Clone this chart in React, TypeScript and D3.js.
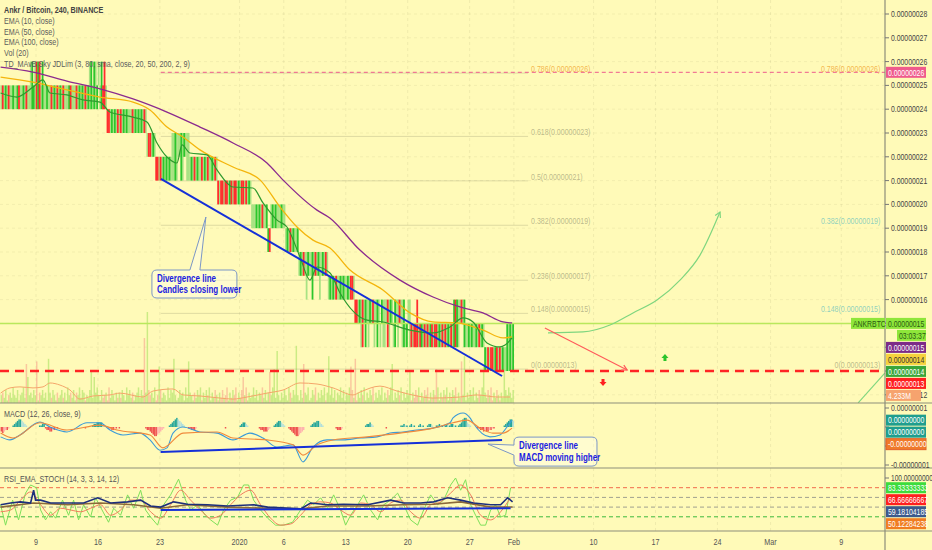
import React from 'react';
import * as d3 from 'd3';

const W = 932;
const H = 550;
const AXIS_X = 885;
const MAIN_BOTTOM = 403;
const MACD_BOTTOM = 468;
const RSI_BOTTOM = 531;
const FONT = "'Liberation Sans', Arial, sans-serif";
const BG = '#fffab8';

const T0 = Date.UTC(2019, 11, 5);
const DAY = 864e5;
const at = (d: number) => new Date(T0 + d * DAY);

// price in satoshi; each block = base level + one char per 4h candle
const blockLevels = [24, 23, 22, 21, 21, 21, 20, 19, 18, 16, 16, 14, 14, 14, 14, 13, 13];
const blockBars = [
  'gRgGgRggGg' + 'gGRggGgRgg' + 'uUGuDUDgUg' + 'gGggRgGgRg' + 'GgRgggGRgg' + 'gRgGgGgRgG' + 'uUgUuGhgURDg',
  'RRgGgGgRgRgGgGgggRgGgGgGgRg',
  'gRRgGg',
  'RRgRgGgGgGg',
  'uuUuhhUuHhuugGgRgGg',
  'gRgGgRggGgRg',
  'RgRRgRRgGRgRRgGgRRgRgGg',
  'gggGgGgRggGbBgGgGgggGgg',
  'gGgRgGggG',
  'hHhKhuHhhUhKhHuhHhKh',
  'gGgGgRggGgGggGgRRg',
  'KKhHuDhUhuHhKuhUhgHuuhDuHhgUhuKhuUgGhu',
  'RgRRDgRGgRgRgGRgRRgGgRgRgGgRg',
  'UDUuhKhUg',
  'gGgGggGgRgGg',
  'GgRgRRgGRgRgGg',
  'gUuUuU',
];

// volume per candle (base 36 digits)
const volumeCodes = [
  '3425134263', '2513462fa3', '4253g14352', '41h4253142', '3524163425', '1436254132', '5c2a463152',
  '3416253142', '4253163524', '1346253p4z', '5342613e52', '4316254h31', '2534162g43', '1425361425',
  '3614253142', '5236142536', '1425a36142', '3625143625', '14c36d2k31', '4253164253', 'm3152f4361',
  '2536142536', '14i3625143', '6251436e52', 'h142536142', '5361425361', '42536f1425', '3614253c14',
  '2536142536', '14253d6142', '5361425361', '42g3i14253', '6142536e42', '5361425314', '2d536425',
].join('');

// MACD histogram per candle: digits up, letters a-f down
const histCodes = [
  'cdcbba0012', '3455432100', '0000001122', 'abbccbbaa0', '0000000000', '0000000a00', '0012233332',
  '100aabbaa0', 'a000000000', '00000000ab', 'bcdeffedcb', 'a000123456', '5432100aab', 'bba0000000',
  '0000000000', '00a0000000', '0012332100', '00000abbcc', 'cba0012344', '32100abcde', 'ffedcb0000',
  '1233443210', '0000000abb', 'ba00000000', '0000000122', '3210000000', '0a00000000', '0112110121',
  '1001211001', '2210011211', '0121122110', '1235663210', '000aabbcbc', 'cbbaa00000', '01234554',
].join('');

type P = [number, number];

const ema10: P[] = [
  [0, 24.68], [1.85, 24.51], [3.66, 24.93], [4.79, 25.23], [5.58, 24.68], [7.5, 24.6], [9.31, 24.39],
  [11.23, 24.3], [12.36, 23.88], [14.96, 23.67], [16.54, 23.46], [17.67, 22.58], [18.8, 21.99],
  [19.93, 21.74], [20.5, 22.5], [21.4, 22.16], [23.32, 22.08], [24.45, 21.45], [26.26, 20.73],
  [28.52, 20.69], [29.65, 20.06], [31.23, 19.34], [32.36, 19.05], [33.83, 17.79], [34.96, 16.82],
  [35.75, 17.37], [37.22, 17.12], [38.35, 16.28], [41.4, 15.14], [43.21, 15.06], [46.26, 14.72],
  [48.86, 14.6], [50.78, 14.85], [52.25, 15.23], [53.38, 15.06], [54.96, 14.18], [56.43, 14.01],
  [57.0, 14.09], [57.79, 14.39],
];
const ema50: P[] = [
  [0, 25.35], [3.66, 25.14], [7.5, 24.81], [11.23, 24.51], [14.96, 24.3], [16.88, 23.97], [18.8, 23.25],
  [20.6, 22.83], [22.53, 22.29], [26.26, 21.57], [29.31, 21.03], [31.57, 19.89], [33.49, 19.05],
  [35.3, 18.5], [37.22, 18.17], [39.48, 17.24], [43.2, 16.4], [46.26, 15.44], [48.86, 15.06],
  [51.57, 15.02], [54.51, 14.72], [56.77, 14.39], [57.79, 14.43],
];
const ema100: P[] = [
  [0, 25.77], [3.66, 25.56], [7.5, 25.18], [11.23, 24.85], [14.96, 24.43], [18.8, 23.88], [22.53, 23.25],
  [26.26, 22.58], [30.1, 21.74], [31.9, 21.03], [35.75, 19.76], [37.2, 19.43], [40.6, 18.08],
  [45.13, 16.82], [48.86, 16.11], [51.9, 15.69], [54.5, 15.44], [56.77, 15.06], [57.8, 15.02],
];
const volMA: P[] = [
  [0, 3.8], [1.06, 5.8], [2.19, 6.2], [3.66, 5.8], [4.79, 6.2], [5.58, 7.7], [6.71, 6.9], [7.84, 5.0],
  [8.97, 1.5], [10.44, 2.7], [12.36, 3.1], [13.49, 3.8], [16.09, 2.3], [17.22, 4.6], [19.48, 5.4],
  [20.61, 3.1], [22.53, 2.7], [24.79, 1.9], [26.26, 1.5], [27.84, 2.3], [30.1, 3.8], [31.91, 5.0],
  [33.83, 7.7], [35.75, 7.3], [37.56, 5.8], [39.82, 3.1], [40.61, 4.2], [42.87, 6.5], [44.79, 4.6],
  [47.05, 2.7], [48.86, 1.9], [51.91, 2.3], [53.83, 3.1], [56.09, 2.3], [57.56, 2.3],
];
const macdLine: P[] = [
  [0, -0.26], [1.06, -0.34], [2.19, -0.21], [4.45, 0.13], [5.58, 0], [7.5, -0.13], [9.76, 0.11],
  [11.23, 0.11], [12.36, -0.08], [13.83, -0.21], [15.75, -0.16], [16.88, -0.34], [18.01, -0.61],
  [18.8, -0.55], [19.48, -0.16], [20.61, 0], [22.53, -0.13], [24.45, -0.16], [26.26, -0.34],
  [28.18, -0.16], [29.65, -0.29], [31.23, -0.53], [33.04, -0.47], [34.17, -0.92], [35.3, -0.53],
  [36.88, -0.34], [38.69, -0.34], [40.61, -0.29], [42.53, -0.26], [44.0, -0.16], [45.47, -0.13],
  [47.05, -0.08], [48.86, -0.03], [50.78, 0.11], [51.12, 0.24], [52.25, 0.37], [53.04, 0.24],
  [53.38, 0.11], [55.3, -0.26], [56.43, -0.21], [57.22, 0], [57.79, 0.18],
];
const signalLine: P[] = [
  [0, -0.16], [1.4, -0.29], [4.45, 0.11], [7.5, -0.08], [11.23, 0.05], [13.15, -0.08], [16.88, -0.21],
  [18.35, -0.55], [20.61, -0.16], [24.45, -0.13], [26.26, -0.29], [30.1, -0.34], [33.04, -0.47],
  [34.17, -0.74], [35.75, -0.47], [37.56, -0.34], [41.4, -0.26], [45.13, -0.16], [48.86, -0.03],
  [51.12, 0.11], [52.7, 0.18], [54.17, -0.03], [55.64, -0.16], [56.77, -0.16], [57.79, -0.03],
];
const stochK: P[] = [
  [0, 54], [0.56, 19], [1.36, 62], [2.03, 28], [2.82, 74], [3.39, 88], [4.07, 83], [4.52, 45], [5.08, 28],
  [5.65, 42], [6.21, 31], [7.0, 62], [7.68, 36], [8.25, 62], [8.81, 28], [9.38, 54], [10.17, 33],
  [10.73, 66], [11.64, 40], [12.2, 24], [12.77, 48], [13.56, 36], [14.35, 71], [15.03, 48], [15.82, 79],
  [16.38, 45], [16.95, 33], [17.74, 19], [18.42, 54], [19.21, 71], [20.11, 98], [20.9, 62], [21.47, 45],
  [22.26, 54], [23.16, 36], [23.73, 28], [24.52, 19], [25.2, 45], [25.99, 62], [26.78, 67], [27.46, 88],
  [28.02, 88], [28.59, 62], [29.38, 45], [30.17, 31], [31.07, 19], [31.98, 19], [32.99, 24], [33.9, 45],
  [34.69, 62], [35.37, 54], [36.16, 66], [36.95, 48], [37.63, 71], [38.42, 45], [38.98, 19], [39.55, 36],
  [40.34, 54], [41.02, 71], [41.81, 45], [42.6, 28], [43.28, 54], [44.07, 62], [44.86, 74], [45.54, 54],
  [46.33, 28], [47.12, 19], [47.8, 45], [48.59, 71], [49.38, 54], [50.06, 62], [50.85, 88], [51.41, 100],
  [51.98, 79], [52.54, 97], [53.11, 54], [53.67, 36], [54.24, 19], [54.8, 19], [55.37, 45], [55.93, 54],
  [56.5, 33], [57.06, 36], [57.63, 83.33333333],
];
const stochD: P[] = [
  [0, 42], [1.13, 45], [2.26, 62], [3.39, 76], [4.52, 54], [5.65, 36], [6.78, 48], [7.91, 45], [9.04, 42],
  [10.17, 48], [11.3, 54], [12.43, 36], [13.56, 45], [14.69, 62], [15.82, 62], [16.95, 42], [18.08, 31],
  [19.21, 54], [20.34, 79], [21.47, 62], [22.6, 45], [23.73, 31], [24.86, 36], [25.99, 54], [27.12, 71],
  [28.25, 79], [29.38, 54], [30.51, 31], [31.64, 19], [32.77, 21], [33.9, 36], [35.03, 54], [36.16, 59],
  [37.29, 57], [38.42, 45], [39.55, 36], [40.68, 57], [41.81, 54], [42.94, 42], [44.07, 57], [45.2, 62],
  [46.33, 42], [47.46, 31], [48.59, 54], [49.72, 59], [50.85, 74], [51.98, 88], [53.11, 71], [54.24, 36],
  [55.37, 28], [56.5, 42], [57.63, 66.66666667],
];
const rsiLine: P[] = [
  [0, 54], [1.13, 57], [2.26, 59], [3.39, 57], [3.73, 79], [3.95, 62], [4.52, 62], [5.65, 57], [7.57, 57],
  [9.38, 57], [10.96, 66], [12.43, 57], [14.35, 59], [15.82, 62], [16.95, 52], [18.08, 50], [19.55, 59],
  [21.13, 55], [23.39, 54], [25.65, 52], [28.59, 54], [30.17, 50], [32.77, 48], [33.9, 47], [35.03, 57],
  [36.95, 54], [38.76, 55], [41.47, 54], [44.07, 62], [45.54, 57], [47.46, 57], [48.93, 59], [50.51, 66],
  [51.98, 62], [53.45, 57], [55.37, 54], [56.5, 54], [57.29, 66], [57.85, 59.18104185],
];
const rsiSmooth: P[] = [
  [0, 50], [3.73, 57], [7.57, 54], [11.3, 57], [15.03, 54], [18.08, 48], [21.13, 54], [25.65, 50],
  [30.17, 48], [33.9, 47], [36.95, 52], [41.47, 52], [45.54, 54], [48.93, 55], [51.98, 59], [55.37, 50],
  [57.85, 50.12284238],
];
const rsiLevels = [83.33, 66.67, 50, 33.33];

const fibLevels = [0, 0.148, 0.236, 0.382, 0.5, 0.618, 0.786];
const fibRightLevels = [0, 0.148, 0.382, 0.786];
const fibLow = 13.08;
const fibHigh = 28.9;

const divergencePrice: P[] = [[18.12, 21.07], [56.66, 12.79]];
const divergenceMacd: P[] = [[18.08, -0.66], [56.66, -0.34]];
const divergenceRsi: P[] = [[18.08, 45], [57.63, 48]];
const projectionUp: P[] = [
  [61.85, 14.6], [65.81, 14.64], [68.86, 14.93], [71.46, 15.44], [74.17, 15.98], [76.77, 16.82],
  [79.03, 17.87], [81.29, 19.68],
];
const projectionDown: P[] = [[61.5, 14.81], [70.8, 13.04]];
const sideLine: P[] = [[96.9, 11.66], [99.93, 12.92]];

const timeTicks: [number, string][] = [
  [Date.UTC(2019, 11, 9), '9'], [Date.UTC(2019, 11, 16), '16'], [Date.UTC(2019, 11, 23), '23'],
  [Date.UTC(2020, 0, 1), '2020'], [Date.UTC(2020, 0, 6), '6'], [Date.UTC(2020, 0, 13), '13'],
  [Date.UTC(2020, 0, 20), '20'], [Date.UTC(2020, 0, 27), '27'], [Date.UTC(2020, 1, 1), 'Feb'],
  [Date.UTC(2020, 1, 10), '10'], [Date.UTC(2020, 1, 17), '17'], [Date.UTC(2020, 1, 24), '24'],
  [Date.UTC(2020, 2, 1), 'Mar'], [Date.UTC(2020, 2, 9), '9'],
];

const legend = [
  'Ankr / Bitcoin, 240, BINANCE',
  'EMA (10, close)',
  'EMA (50, close)',
  'EMA (100, close)',
  'Vol (20)',
  'TD_MAvB Sky JDLim (3, 80, sma, close, 20, 50, 200, 2, 9)',
];

const SPAN: Record<string, [number, number, string]> = {
  G: [0, 1, 'G'], g: [0, 1, 'g'], R: [0, 1, 'R'], r: [0, 1, 'r'],
  U: [0, 2, 'G'], u: [0, 2, 'g'], D: [0, 2, 'R'], d: [0, 2, 'r'],
  H: [1, 2, 'G'], h: [1, 2, 'g'], K: [1, 2, 'R'], k: [1, 2, 'r'],
  b: [-1, 0, 'G'], q: [-1, 0, 'g'], B: [-1, 0, 'R'],
};
const KIND_COLOR: Record<string, string> = { G: '#2cc62c', g: '#a8e283', R: '#ff2d2d', r: '#f6a89c' };

// satoshi -> BTC string
const fmt = (sats: number) => {
  const s = Math.sign(sats) * Math.round(Math.abs(sats));
  return (sats < 0 ? '-' : '') + (Math.abs(s) / 1e8).toFixed(8);
};

// condensed text (no narrow font installed)
function T(props: { x: number; y: number; size?: number; fill?: string; anchor?: string; weight?: number; children: React.ReactNode }) {
  const { x, y, size = 8.6, fill = '#444', anchor = 'start', weight = 400, children } = props;
  return (
    <text transform={`translate(${x},${y}) scale(0.8,1)`} fontSize={size} fill={fill} textAnchor={anchor} fontWeight={weight}>
      {children}
    </text>
  );
}

type Box = { y: number; text: string; bg: string; fg: string; x0?: number; x1?: number; stroke?: string };
const stack = (items: Box[], h: number) => {
  const out: Box[] = [];
  items.forEach((b, i) => {
    const yy = i === 0 ? b.y : Math.max(b.y, out[i - 1].y + h);
    out.push({ ...b, y: yy });
  });
  return out;
};

function calloutPath(l: number, t: number, w: number, h: number, tip: P, side: 'top' | 'left', a: number, b: number) {
  const r = 5;
  const rr = l + w;
  const bb = t + h;
  if (side === 'top') {
    return `M${l + r},${t} L${a},${t} L${tip[0]},${tip[1]} L${b},${t} L${rr - r},${t} Q${rr},${t} ${rr},${t + r} L${rr},${bb - r} Q${rr},${bb} ${rr - r},${bb} L${l + r},${bb} Q${l},${bb} ${l},${bb - r} L${l},${t + r} Q${l},${t} ${l + r},${t} Z`;
  }
  return `M${l + r},${t} L${rr - r},${t} Q${rr},${t} ${rr},${t + r} L${rr},${bb - r} Q${rr},${bb} ${rr - r},${bb} L${l + r},${bb} Q${l},${bb} ${l},${bb - r} L${l},${b} L${tip[0]},${tip[1]} L${l},${a} L${l},${t + r} Q${l},${t} ${l + r},${t} Z`;
}

export default function App() {
  const x = d3.scaleUtc().domain([at(0), at(100)]).range([0.6, 885.6]);
  const y = d3.scaleLinear().domain([12, 28]).range([394.8, 14]);
  const ym = d3.scaleLinear().domain([-1, 1]).range([465, 389]);
  const yr = d3.scaleLinear().domain([0, 100]).range([536.2, 478]);
  const yv = d3.scaleLinear().domain([0, 35]).range([MAIN_BOTTOM, MAIN_BOTTOM - 91]);
  const xd = (d: number) => x(at(d));

  const line = (ys: d3.ScaleLinear<number, number>, curve: d3.CurveFactory = d3.curveMonotoneX) =>
    d3.line<P>().x((p) => xd(p[0])).y((p) => ys(p[1])).curve(curve);

  // candles
  const candles: { i: number; lo: number; hi: number; kind: string }[] = [];
  let idx = 0;
  blockBars.forEach((s, b) => {
    for (const ch of s) {
      const [a, c, kind] = SPAN[ch];
      candles.push({ i: idx, lo: blockLevels[b] + a, hi: blockLevels[b] + c, kind });
      idx++;
    }
  });
  const step = xd(1 / 6) - xd(0);
  const cx = (i: number) => xd(i / 6);
  const isLight = (k: string) => k === k.toLowerCase();
  const lightFirst = [...candles].sort((a, b) => (isLight(a.kind) ? 0 : 1) - (isLight(b.kind) ? 0 : 1));

  const vols = volumeCodes.split('').map((c) => parseInt(c, 36));
  const hist = histCodes.split('').map((c) => (c >= 'a' ? -(c.charCodeAt(0) - 96) : +c) * 0.04);

  const priceTicks = d3.range(12, 29, 1);
  const lastClose = 15;
  const last = (arr: P[]) => arr[arr.length - 1][1];

  const priceBoxes = stack(
    [
      { y: y(lastClose), text: fmt(lastClose), bg: '#8ee63a', fg: '#2b5a12' },
      { y: y(lastClose), text: '03:03:37', bg: '#8ee63a', fg: '#2b5a12', x0: 897 },
      { y: y(last(ema100)), text: fmt(last(ema100)), bg: '#7c2b88', fg: '#fff' },
      { y: y(last(ema50)), text: fmt(last(ema50)), bg: '#f6d23c', fg: '#333' },
      { y: y(last(ema10)), text: fmt(last(ema10)), bg: '#3aa63a', fg: '#fff' },
      { y: y(13), text: fmt(13), bg: '#ff1f1f', fg: '#fff' },
      { y: yv(vols[vols.length - 1]), text: '4.233M', bg: '#f6a36e', fg: '#fff', x1: 921 },
    ],
    12,
  );
  const macdBoxes = stack(
    [
      { y: ym(last(macdLine)), text: fmt(last(macdLine)), bg: '#1f9e8e', fg: '#fff' },
      { y: ym(hist[hist.length - 1]), text: fmt(hist[hist.length - 1]), bg: '#1f9e8e', fg: '#fff' },
      { y: ym(last(signalLine)), text: fmt(last(signalLine)), bg: '#f07a2a', fg: '#fff', stroke: '#e0602a' },
    ],
    12,
  );
  const rsiBoxes = stack(
    [
      { y: yr(last(stochK)), text: last(stochK).toFixed(8), bg: '#3ddc3d', fg: '#fff' },
      { y: yr(last(stochD)), text: last(stochD).toFixed(8), bg: '#ff1f1f', fg: '#fff' },
      { y: yr(last(rsiLine)), text: last(rsiLine).toFixed(8), bg: '#3c5a8c', fg: '#fff' },
      { y: yr(last(rsiSmooth)), text: last(rsiSmooth).toFixed(8), bg: '#f07d22', fg: '#fff' },
    ],
    12,
  );
  const pinkY = y(25.55);
  const allBoxY = [...priceBoxes.slice(0, 6), ...macdBoxes, ...rsiBoxes].map((b) => b.y).concat([pinkY]);
  const hidden = (yy: number) => allBoxY.some((by) => Math.abs(by - yy) < 9);

  const renderBoxes = (boxes: Box[]) =>
    boxes.map((b, i) => (
      <g key={i}>
        <rect x={b.x0 ?? 886} y={b.y - 5.5} width={(b.x1 ?? 926) - (b.x0 ?? 886)} height={11} fill={b.bg} stroke={b.stroke ?? 'none'} />
        <T x={(b.x0 ?? 886) + 2} y={b.y + 3.2} fill={b.fg}>{b.text}</T>
      </g>
    ));

  const fibY = (lv: number) => y(fibLow + lv * (fibHigh - fibLow));
  const fibText = (lv: number) => `${lv}(${fmt(fibLow + lv * (fibHigh - fibLow))})`;
  const fibStart = xd(18.1);
  const fibEnd = xd(59.6);
  const fibRight = xd(99.4);

  const tip1: P = [xd(23.2), y(19.47)];
  const tip2: P = [xd(55.07), ym(-0.45)];
  const c1 = { l: tip1[0] - 54, t: tip1[1] + 53, w: 85, h: 28 };
  const c2 = { l: tip2[0] + 26, t: tip2[1] - 7, w: 83, h: 29 };

  const arrowHead = (p0: P, p1: P, color: string) => {
    const ang = Math.atan2(p1[1] - p0[1], p1[0] - p0[0]);
    const L = 6;
    const a1 = ang + Math.PI - 0.5;
    const a2 = ang + Math.PI + 0.5;
    return (
      <path
        d={`M${p1[0] + L * Math.cos(a1)},${p1[1] + L * Math.sin(a1)} L${p1[0]},${p1[1]} L${p1[0] + L * Math.cos(a2)},${p1[1] + L * Math.sin(a2)}`}
        fill="none" stroke={color} strokeWidth={1.2}
      />
    );
  };
  const up = projectionUp.map((p) => [xd(p[0]), y(p[1])] as P);
  const dn = projectionDown.map((p) => [xd(p[0]), y(p[1])] as P);
  const upMark: P = [xd(75.07), y(13.55)];
  const dnMark: P = [xd(68.07), y(12.54)];
  const calloutBlue = '#1c1ce0';

  return (
    <div style={{ position: 'fixed', left: 0, top: 0 }}>
      <svg width={W} height={H} style={{ display: 'block', fontFamily: FONT }}>
        <defs>
          <clipPath id="cm"><rect x={0} y={0} width={AXIS_X} height={MAIN_BOTTOM} /></clipPath>
          <clipPath id="cd"><rect x={0} y={MAIN_BOTTOM} width={AXIS_X} height={MACD_BOTTOM - MAIN_BOTTOM} /></clipPath>
          <clipPath id="cr"><rect x={0} y={MACD_BOTTOM} width={AXIS_X} height={RSI_BOTTOM - MACD_BOTTOM} /></clipPath>
        </defs>
        <rect width={W} height={H} fill={BG} />

        {/* grid */}
        {timeTicks.map(([t], i) => (
          <line key={i} x1={x(new Date(t))} x2={x(new Date(t))} y1={0} y2={RSI_BOTTOM} stroke="rgba(140,140,90,0.13)" strokeDasharray="3,3" />
        ))}
        {priceTicks.map((v) => (
          <line key={v} x1={0} x2={AXIS_X} y1={y(v)} y2={y(v)} stroke="rgba(140,140,90,0.1)" strokeDasharray="3,3" />
        ))}

        <g clipPath="url(#cm)">
          {/* volume */}
          {vols.map((v, i) => (
            <rect key={i} x={cx(i)} y={yv(v)} width={step} height={MAIN_BOTTOM - yv(v)}
              fill={candles[i].kind === 'R' || candles[i].kind === 'r' ? 'rgba(246,165,140,0.6)' : 'rgba(175,228,105,0.65)'} />
          ))}
          <path d={line(yv)(volMA) ?? ''} fill="none" stroke="#f5a66a" strokeWidth={1} />

          {/* fib */}
          {fibLevels.map((lv) => (
            <g key={lv}>
              <line x1={fibStart} x2={fibEnd} y1={fibY(lv)} y2={fibY(lv)} stroke="rgba(150,150,110,0.3)" />
              <T x={fibEnd + 3} y={fibY(lv) - 1} size={8.8} fill={lv === 0.786 ? 'rgba(240,160,40,0.75)' : 'rgba(130,130,100,0.55)'}>{fibText(lv)}</T>
            </g>
          ))}
          {fibRightLevels.map((lv) => (
            <T key={lv} x={fibRight} y={fibY(lv) - 1} size={8.8} anchor="end"
              fill={lv === 0.786 ? 'rgba(240,160,40,0.75)' : lv === 0 ? 'rgba(130,130,100,0.55)' : 'rgba(80,185,190,0.65)'}>{fibText(lv)}</T>
          ))}
          <line x1={fibStart} x2={AXIS_X} y1={pinkY} y2={pinkY} stroke="#ee5a8c" strokeDasharray="4,3" />

          {/* candles */}
          {lightFirst.map((c) => (
            <rect key={c.i} x={cx(c.i) - 0.2} y={y(c.hi)} width={step + 0.3} height={y(c.lo) - y(c.hi)} fill={KIND_COLOR[c.kind]} />
          ))}

          <line x1={0} x2={AXIS_X} y1={y(lastClose)} y2={y(lastClose)} stroke="#b9e85c" strokeWidth={1.5} />
          <line x1={0} x2={AXIS_X} y1={y(13)} y2={y(13)} stroke="#ff2424" strokeWidth={2.5} strokeDasharray="9,6" />

          <path d={line(y)(ema100) ?? ''} fill="none" stroke="#8b2a8e" strokeWidth={1.3} />
          <path d={line(y)(ema50) ?? ''} fill="none" stroke="#f4b50c" strokeWidth={1.3} />
          <path d={line(y)(ema10) ?? ''} fill="none" stroke="#2e9a2e" strokeWidth={1.2} />

          <path d={line(y, d3.curveLinear)(divergencePrice) ?? ''} stroke="#1530d8" strokeWidth={2} fill="none" />

          {/* projections */}
          <path d={d3.line().curve(d3.curveMonotoneX)(up) ?? ''} fill="none" stroke="#7fd67f" strokeWidth={1.2} />
          {arrowHead(up[up.length - 2], up[up.length - 1], '#7fd67f')}
          <line x1={dn[0][0]} y1={dn[0][1]} x2={dn[1][0]} y2={dn[1][1]} stroke="#ff5a5a" strokeWidth={1.1} />
          {arrowHead(dn[0], dn[1], '#ff5a5a')}
          <path d={line(y, d3.curveLinear)(sideLine) ?? ''} stroke="#7fd67f" strokeWidth={1.1} fill="none" />
          <path d={`M${upMark[0]},${upMark[1] - 4} l3.5,4 h-2 v3 h-3 v-3 h-2 Z`} fill="#2bc42b" />
          <path d={`M${dnMark[0]},${dnMark[1] + 4} l3.5,-4 h-2 v-3 h-3 v3 h-2 Z`} fill="#ff2020" />

          {/* callout 1 */}
          <path d={calloutPath(c1.l, c1.t, c1.w, c1.h, tip1, 'top', tip1[0] - 16, tip1[0] - 6)} fill="rgba(255,255,235,0.45)" stroke="#7b96c6" />
          <T x={c1.l + 5} y={c1.t + 12} size={10} weight={600} fill={calloutBlue}>Divergence line</T>
          <T x={c1.l + 5} y={c1.t + 23} size={10} weight={600} fill={calloutBlue}>Candles closing lower</T>
        </g>

        <g clipPath="url(#cd)">
          {hist.map((v, i) => {
            const prev = i > 0 ? hist[i - 1] : 0;
            const col = v >= 0 ? (v >= prev ? '#26a69a' : '#b2dfdb') : v <= prev ? '#ef5350' : '#ffb3ae';
            return v === 0 ? null : (
              <rect key={i} x={cx(i)} y={Math.min(ym(v), ym(0))} width={step} height={Math.abs(ym(v) - ym(0))} fill={col} />
            );
          })}
          <path d={line(ym)(macdLine) ?? ''} fill="none" stroke="#3a9ad8" strokeWidth={1.1} />
          <path d={line(ym)(signalLine) ?? ''} fill="none" stroke="#f08a3c" strokeWidth={1.1} />
          <path d={line(ym, d3.curveLinear)(divergenceMacd) ?? ''} stroke="#1530d8" strokeWidth={2} fill="none" />
        </g>
        <path d={calloutPath(c2.l, c2.t, c2.w, c2.h, tip2, 'left', tip2[1] + 1, tip2[1] + 11)} fill="rgba(255,255,235,0.45)" stroke="#7b96c6" />
        <T x={c2.l + 5} y={c2.t + 12} size={10} weight={600} fill={calloutBlue}>Divergence line</T>
        <T x={c2.l + 5} y={c2.t + 24} size={10} weight={600} fill={calloutBlue}>MACD moving higher</T>

        <g clipPath="url(#cr)">
          {rsiLevels.map((lv, i) => (
            <line key={lv} x1={0} x2={AXIS_X} y1={yr(lv)} y2={yr(lv)} strokeDasharray="4,3"
              stroke={i === 0 ? '#f26a4a' : i === 3 ? '#3cb93c' : '#a0a090'} />
          ))}
          <path d={line(yr, d3.curveLinear)(stochK) ?? ''} fill="none" stroke="#7ee05a" strokeWidth={1} />
          <path d={line(yr)(stochD) ?? ''} fill="none" stroke="#f07c5c" strokeWidth={1} />
          <path d={line(yr, d3.curveLinear)(rsiSmooth) ?? ''} fill="none" stroke="#8b6a3a" strokeWidth={1.6} />
          <path d={line(yr, d3.curveLinear)(rsiLine) ?? ''} fill="none" stroke="#1d2f7c" strokeWidth={1.6} />
          <path d={line(yr, d3.curveLinear)(divergenceRsi) ?? ''} stroke="#1530d8" strokeWidth={2} fill="none" />
        </g>

        {/* pane borders */}
        <line x1={0} x2={W} y1={MAIN_BOTTOM} y2={MAIN_BOTTOM} stroke="#8d8d7a" strokeWidth={1.2} />
        <line x1={0} x2={W} y1={MACD_BOTTOM} y2={MACD_BOTTOM} stroke="#8d8d7a" strokeWidth={1.2} />
        <line x1={0} x2={W} y1={RSI_BOTTOM} y2={RSI_BOTTOM} stroke="#8d8d7a" strokeWidth={1} />
        <line x1={AXIS_X} x2={AXIS_X} y1={0} y2={H} stroke="#8d8d7a" strokeWidth={1.2} />

        {/* legends */}
        {legend.map((t, i) => (
          <T key={i} x={4} y={13 + i * 10.8} size={9} fill={i === 0 ? '#444' : '#5c5c5c'} weight={i === 0 ? 600 : 400}>{t}</T>
        ))}
        <T x={4} y={417} size={9} fill="#555">MACD (12, 26, close, 9)</T>
        <T x={4} y={482} size={9} fill="#555">RSI_EMA_STOCH (14, 3, 3, 14, 12)</T>

        {/* price axis */}
        {priceTicks.map((v) => (
          <g key={v}>
            <line x1={AXIS_X} x2={AXIS_X + 4} y1={y(v)} y2={y(v)} stroke="#777" />
            {!hidden(y(v)) && <T x={AXIS_X + 6} y={y(v) + 3}>{fmt(v)}</T>}
          </g>
        ))}
        {[0.5, 0, -0.5, -1].map((v) => (
          <g key={v}>
            <line x1={AXIS_X} x2={AXIS_X + 4} y1={ym(v)} y2={ym(v)} stroke="#777" />
            {!hidden(ym(v)) && <T x={AXIS_X + 6} y={ym(v) + 3}>{fmt(v)}</T>}
          </g>
        ))}
        <line x1={AXIS_X} x2={AXIS_X + 4} y1={yr(100)} y2={yr(100)} stroke="#777" />
        <T x={AXIS_X + 6} y={yr(100) + 3} size={8.2}>{(100).toFixed(8)}</T>

        {/* labels on axis */}
        <rect x={851} y={priceBoxes[0].y - 5.5} width={34} height={11} fill="#8ee63a" />
        <T x={853} y={priceBoxes[0].y + 3.2} fill="#2b5a12">ANKRBTC</T>
        <rect x={886} y={pinkY - 5.5} width={40} height={11} fill="#ef5a8c" />
        <T x={888} y={pinkY + 3.2} fill="#fff">{fmt(25.55)}</T>
        {renderBoxes(priceBoxes)}
        {renderBoxes(macdBoxes)}
        {renderBoxes(rsiBoxes)}

        {/* time axis */}
        {timeTicks.map(([t, lab], i) => (
          <T key={i} x={x(new Date(t))} y={545} size={9} fill="#555" anchor="middle">{lab}</T>
        ))}
      </svg>
    </div>
  );
}
